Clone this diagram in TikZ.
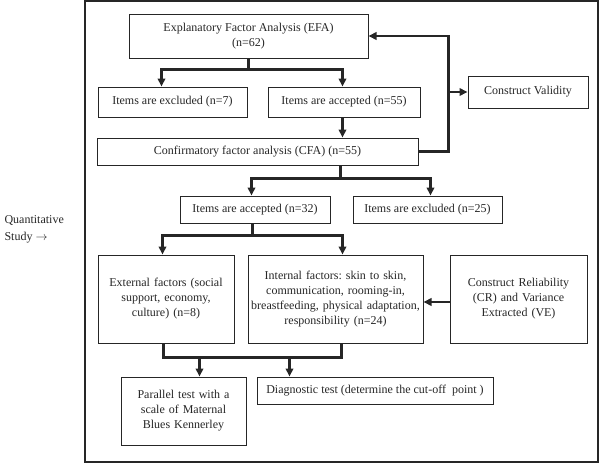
\documentclass[tikz,border=0pt]{standalone}
\usepackage{fontspec}
\setmainfont{Liberation Serif}
\usetikzlibrary{arrows.meta,calc}
\definecolor{ink}{HTML}{262626}
\begin{document}
\frenchspacing
\begin{tikzpicture}[x=1pt,y=-1pt,
  box/.style={draw=ink, line width=1pt, inner sep=1pt, align=center, text=ink,
    font=\fontsize{12}{15}\selectfont},
  conn/.style={draw=ink, line width=2.2pt},
  arr/.style={conn, -{Triangle[length=8pt,width=7.5pt]}}]
\useasboundingbox (0,0) rectangle (600,463);
\draw[ink, line width=1.3pt] (85,1) rectangle (598,462);
\node[anchor=west, align=left, text=ink, font=\fontsize{12}{17}\selectfont] (qs) at (1,229) {Quantitative\\Study $\rightarrow$};

\node[box, minimum width=239pt, minimum height=44pt] (efa) at (248.5,36) {Explanatory Factor Analysis (EFA)\\(n=62)};
\node[box, minimum width=149pt, minimum height=30pt] (exc7) at (172.5,102) {Items are excluded (n=7)};
\node[box, minimum width=152pt, minimum height=30pt] (acc55) at (344,102) {Items are accepted (n=55)};
\node[box, minimum width=321pt, minimum height=27pt] (cfa) at (257.5,151.5) {Confirmatory factor analysis (CFA) (n=55)};
\node[box, minimum width=120pt, minimum height=32pt] (cv) at (528,92) {Construct Validity};
\node[box, minimum width=150pt, minimum height=27pt] (acc32) at (255,209.5) {Items are accepted (n=32)};
\node[box, minimum width=149pt, minimum height=27pt] (exc25) at (427.5,209.5) {Items are excluded (n=25)};
\node[box, minimum width=136pt, minimum height=88pt, text width=134pt] (ext) at (166,299) {External factors (social\\support, economy,\\culture) (n=8)};
\node[box, minimum width=175pt, minimum height=88pt, text width=173pt] (int) at (335.5,299) {Internal factors: skin to skin,\\communication, rooming-in,\\breastfeeding, physical adaptation,\\responsibility (n=24)};
\node[box, minimum width=137pt, minimum height=88pt, text width=135pt] (crve) at (518.5,299) {Construct Reliability\\(CR) and Variance\\Extracted (VE)};
\node[box, minimum width=125pt, minimum height=68pt, text width=123pt] (par) at (183.5,411) {Parallel test with a\\scale of Maternal\\Blues Kennerley};
\node[box, minimum width=236pt, minimum height=27pt] (diag) at (375,390.5) {Diagnostic test (determine the cut-off\ \ point )};

% EFA branch
\draw[conn] (efa.south) -- ++(0,11) coordinate (b1);
\draw[arr] (b1) -| ($(exc7.north west)+(64,0)$);
\draw[arr] (b1) -| ($(acc55.north west)+(75,0)$);
% accepted -> CFA
\coordinate (a55) at ($(acc55.south west)+(75,0)$);
\draw[arr] (a55) -- (a55 |- cfa.north);
% feedback and construct validity
\draw[arr] (cfa.east) -- ++(30,0) coordinate (fb) |- (efa.east);
\draw[arr] (fb |- cv.west) -- (cv.west);
% CFA branch
\draw[conn] ($(cfa.south west)+(244,0)$) -- ++(0,13) coordinate (b2);
\draw[arr] (b2) -| ($(acc32.north west)+(72,0)$);
\draw[arr] (b2) -| ($(exc25.north west)+(78,0)$);
% accepted 32 branch
\draw[conn] ($(acc32.south west)+(73,0)$) -- ++(0,12) coordinate (b3);
\draw[arr] (b3) -| ($(ext.north west)+(65,0)$);
\draw[arr] (b3) -| ($(int.north west)+(95,0)$);
% CR -> internal
\draw[arr] ([yshift=-3pt]crve.west) -- ([yshift=-3pt]int.east);
% merge to tests
\coordinate (e1) at ($(ext.south west)+(66,0)$);
\coordinate (i1) at ($(int.south west)+(94,0)$);
\draw[conn] (e1) -- ++(0,14) coordinate (m1) -| (i1);
\coordinate (pp) at ($(par.north west)+(79,0)$);
\coordinate (dd) at ($(diag.north west)+(33,0)$);
\draw[arr] (m1 -| pp) -- (pp);
\draw[arr] (m1 -| dd) -- (dd);
\end{tikzpicture}
\end{document}
